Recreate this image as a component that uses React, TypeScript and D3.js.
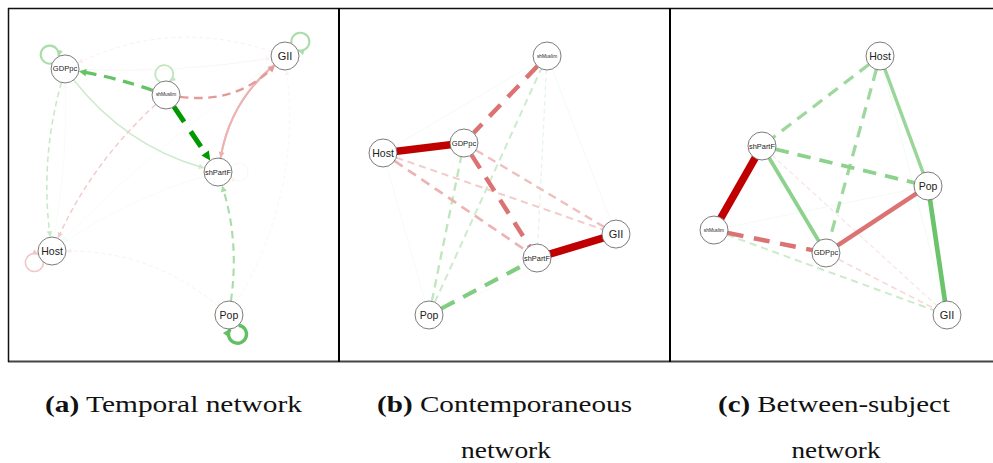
import React from "react";
import * as d3 from "d3";

// ---------- data ----------
const nodeNames = ["GDPpc", "shMuslim", "GII", "shPartF", "Host", "Pop"];

// qgraph-style layouts in [-1, 1] (y up)
const temporalLayoutX = [-0.888, -0.021, 1.0, 0.425, -1.0, 0.519];
const temporalLayoutY = [0.9, 0.699, 1.0, 0.104, -0.506, -1.0];
const contempLayoutX = [-0.305, 0.408, 1.0, 0.322, -1.0, -0.605];
const contempLayoutY = [0.328, 1.0, -0.375, -0.56, 0.251, -1.0];
const betweenLayoutX = [-0.039, -1.0, 1.0, -0.588, 0.425, 0.837];
const betweenLayoutY = [-0.521, -0.344, -1.0, 0.305, 1.0, -0.004];

type Edge = [string, string, number, boolean]; // from, to, weight, significant(solid)

const temporalEdges: Edge[] = [
  ["shMuslim", "shPartF", 1.0, false],
  ["shMuslim", "GDPpc", 0.6, false],
  ["shMuslim", "GII", -0.4, false],
  ["GII", "shPartF", -0.3, true],
  ["shPartF", "GII", -0.3, true],
  ["GDPpc", "shPartF", 0.2, true],
  ["GDPpc", "Host", 0.22, false],
  ["shMuslim", "Host", -0.2, false],
  ["Pop", "shPartF", 0.34, false],
  ["GII", "GDPpc", -0.07, false],
  ["GDPpc", "GII", -0.05, true],
  ["Pop", "Host", -0.07, false],
  ["Pop", "GII", -0.05, false],
  ["shPartF", "Host", 0.04, true],
  ["GII", "Host", 0.04, true],
  ["Host", "GDPpc", 0.04, true],
  ["GDPpc", "GDPpc", 0.33, true],
  ["shMuslim", "shMuslim", 0.25, true],
  ["GII", "GII", 0.33, true],
  ["Host", "Host", -0.22, true],
  ["Pop", "Pop", 0.62, true],
  ["shPartF", "shPartF", -0.05, true],
];
const temporalCurves = [0, 0.04, 0.24, 0.18, -0.18, 0.16, 0.1, 0.1, 0.11, 0.2, 0.05, 0.18, 0.17, 0.08, 0.05, 0.05, 0, 0, 0, 0, 0, 0];

const contempEdges: Edge[] = [
  ["Host", "GDPpc", -1.0, true],
  ["shPartF", "GII", -1.0, true],
  ["shMuslim", "GDPpc", -0.55, false],
  ["GDPpc", "shPartF", -0.55, false],
  ["Host", "shPartF", -0.3, false],
  ["Host", "GII", -0.2, false],
  ["GDPpc", "GII", -0.25, false],
  ["Pop", "shPartF", 0.5, false],
  ["Pop", "GDPpc", 0.25, false],
  ["Pop", "shMuslim", 0.2, false],
  ["shMuslim", "shPartF", 0.1, false],
  ["Host", "shMuslim", 0.05, true],
  ["Host", "Pop", 0.04, true],
  ["shMuslim", "GII", 0.05, true],
  ["Pop", "GII", -0.03, true],
];

const betweenEdges: Edge[] = [
  ["shPartF", "shMuslim", -1.0, true],
  ["Host", "shPartF", 0.38, false],
  ["Host", "GDPpc", 0.38, false],
  ["Host", "Pop", 0.4, true],
  ["shPartF", "Pop", 0.45, false],
  ["shPartF", "GDPpc", 0.45, true],
  ["Pop", "GDPpc", -0.55, true],
  ["Pop", "GII", 0.58, true],
  ["shMuslim", "GDPpc", -0.55, false],
  ["shMuslim", "GII", 0.2, false],
  ["GDPpc", "GII", -0.15, false],
  ["shPartF", "GII", -0.1, false],
  ["shMuslim", "Pop", 0.05, true],
  ["Host", "GII", 0.05, true],
];

const captionLabels = ["(a)", "(b)", "(c)"];
const captionLine1 = ["Temporal network", "Contemporaneous", "Between-subject"];
const captionLine2 = ["", "network", "network"];

// ---------- styles ----------
const POS = "#009900";
const NEG = "#C00000";
const R = 14;
const loopAngles: Record<string, number> = {
  GDPpc: -137, shMuslim: -95, GII: -43, Host: 147, Pop: 66, shPartF: 0,
};
const labelSizes = [7.6, 4.8, 11, 7.4, 10.5, 10.5];

type Panel = {
  left: number;
  lx: number[];
  ly: number[];
  edges: Edge[];
  curves?: number[];
  directed: boolean;
  minW: number;
  maxW: number;
};

function arrowPath(tx: number, ty: number, ux: number, uy: number, sw: number) {
  const L = 4.5 + 0.9 * sw;
  const hw = 2.0 + 0.5 * sw;
  const bx = tx - ux * L, by = ty - uy * L;
  const px = -uy, py = ux;
  return `M${tx},${ty}L${bx + px * hw},${by + py * hw}L${bx - px * hw},${by - py * hw}Z`;
}

function PanelView({ p }: { p: Panel }) {
  const xs = d3.scaleLinear().domain([-1, 1]).range([p.left + 44, p.left + 277]);
  const ys = d3.scaleLinear().domain([-1, 1]).range([315, 56]);
  const pos = (name: string): [number, number] => {
    const k = nodeNames.indexOf(name);
    return [xs(p.lx[k]), ys(p.ly[k])];
  };
  const order = p.edges
    .map((e, i) => ({ e, i }))
    .sort((a, b) => Math.abs(a.e[2]) - Math.abs(b.e[2]));

  const els: React.ReactNode[] = [];
  order.forEach(({ e, i }) => {
    const [f, t, w, sig] = e;
    const tt = Math.min(1, Math.abs(w));
    const col = d3.interpolateRgb("#ffffff", w > 0 ? POS : NEG)(tt);
    const sw = p.minW + p.maxW * tt;
    const dash = sig ? undefined : `${Math.max(4, 3.6 * sw)} ${Math.max(3, 2.4 * sw)}`;
    const [x0, y0] = pos(f);
    if (f === t) {
      const a = (loopAngles[f] * Math.PI) / 180;
      const ux = Math.cos(a), uy = Math.sin(a);
      const vx = -uy, vy = ux;
      const d = 21, rho = 9;
      const lcx = x0 + d * ux, lcy = y0 + d * uy;
      const along = (d * d + R * R - rho * rho) / (2 * d);
      const h = Math.sqrt(Math.max(0, R * R - along * along));
      const pAx = x0 + along * ux + h * vx, pAy = y0 + along * uy + h * vy;
      const pBx = x0 + along * ux - h * vx, pBy = y0 + along * uy - h * vy;
      const rx = pAx - lcx, ry = pAy - lcy;
      const rl = Math.hypot(rx, ry);
      const dx = -ry / rl, dy = rx / rl;
      els.push(
        <path key={`l${i}`} d={`M${pBx},${pBy}A${rho},${rho} 0 1 1 ${pAx},${pAy}`}
          fill="none" stroke={col} strokeWidth={sw} />
      );
      els.push(<path key={`la${i}`} d={arrowPath(pAx, pAy, dx, dy, sw)} fill={col} />);
      return;
    }
    const [x1, y1] = pos(t);
    const curve = p.curves ? p.curves[i] : 0;
    const ddx = x1 - x0, ddy = y1 - y0;
    const len = Math.hypot(ddx, ddy);
    const cx = (x0 + x1) / 2 + curve * len * (-ddy / len);
    const cy = (y0 + y1) / 2 + curve * len * (ddx / len);
    const toward = (ax: number, ay: number): [number, number] => {
      const vx = cx - ax, vy = cy - ay;
      const l = Math.hypot(vx, vy);
      return [ax + (vx / l) * R, ay + (vy / l) * R];
    };
    const [sx, sy] = toward(x0, y0);
    const [ex, ey] = toward(x1, y1);
    let lex = ex, ley = ey;
    let ux = 0, uy = 0;
    if (p.directed) {
      const vx = ex - cx, vy = ey - cy;
      const l = Math.hypot(vx, vy);
      ux = vx / l; uy = vy / l;
      const L = 4.5 + 0.9 * sw;
      lex = ex - ux * L * 0.7;
      ley = ey - uy * L * 0.7;
    }
    const path = d3.path();
    path.moveTo(sx, sy);
    path.quadraticCurveTo(cx, cy, lex, ley);
    els.push(
      <path key={`e${i}`} d={path.toString()} fill="none" stroke={col}
        strokeWidth={sw} strokeDasharray={dash} strokeLinecap={sig ? "round" : "butt"} />
    );
    if (p.directed) {
      els.push(<path key={`a${i}`} d={arrowPath(ex, ey, ux, uy, sw)} fill={col} />);
    }
  });

  return (
    <g>
      {els}
      {nodeNames.map((n, k) => (
        <g key={n}>
          <circle cx={xs(p.lx[k])} cy={ys(p.ly[k])} r={R} fill="#ffffff" stroke="#5a5a5a" strokeWidth={0.8} />
          <text x={xs(p.lx[k])} y={ys(p.ly[k])} textAnchor="middle" dominantBaseline="central"
            fontFamily="'Liberation Sans', Arial, sans-serif" fontSize={labelSizes[k]} fill="#222">
            {n}
          </text>
        </g>
      ))}
    </g>
  );
}

export default function App() {
  const panels: Panel[] = [
    { left: 8, lx: temporalLayoutX, ly: temporalLayoutY, edges: temporalEdges, curves: temporalCurves, directed: true, minW: 0.6, maxW: 4.4 },
    { left: 339, lx: contempLayoutX, ly: contempLayoutY, edges: contempEdges, directed: false, minW: 0.6, maxW: 7 },
    { left: 670, lx: betweenLayoutX, ly: betweenLayoutY, edges: betweenEdges, directed: false, minW: 0.6, maxW: 7 },
  ];
  const capX1 = [173.5, 504.5, 834];
  const capX2 = [173.5, 506, 836];
  const capW1 = [257, 255, 232];
  const capW2 = [0, 90, 89];
  return (
    <svg width={993} height={463} style={{ position: "absolute", left: 0, top: 0 }}>
      <rect x={0} y={0} width={993} height={463} fill="#ffffff" />
      {panels.map((p, i) => <PanelView key={i} p={p} />)}
      <line x1={8} x2={993} y1={8.5} y2={8.5} stroke="#111" strokeWidth={1.5} />
      <line x1={8} x2={993} y1={361.5} y2={361.5} stroke="#444" strokeWidth={2} />
      <line x1={8.5} x2={8.5} y1={8} y2={362} stroke="#111" strokeWidth={1.5} />
      <line x1={339} x2={339} y1={8} y2={362} stroke="#000" strokeWidth={2} />
      <line x1={670} x2={670} y1={8} y2={362} stroke="#000" strokeWidth={2} />
      {captionLabels.map((lab, i) => (
        <g key={lab} style={{ fontFamily: "'Liberation Serif', 'Times New Roman', serif" }} fontSize={23} fill="#111">
          <text x={capX1[i]} y={412} textAnchor="middle" textLength={capW1[i]} lengthAdjust="spacingAndGlyphs">
            <tspan fontWeight="bold">{lab}</tspan>
            <tspan>{" " + captionLine1[i]}</tspan>
          </text>
          {captionLine2[i] && (
            <text x={capX2[i]} y={458} textAnchor="middle" textLength={capW2[i]} lengthAdjust="spacingAndGlyphs">
              {captionLine2[i]}
            </text>
          )}
        </g>
      ))}
    </svg>
  );
}
